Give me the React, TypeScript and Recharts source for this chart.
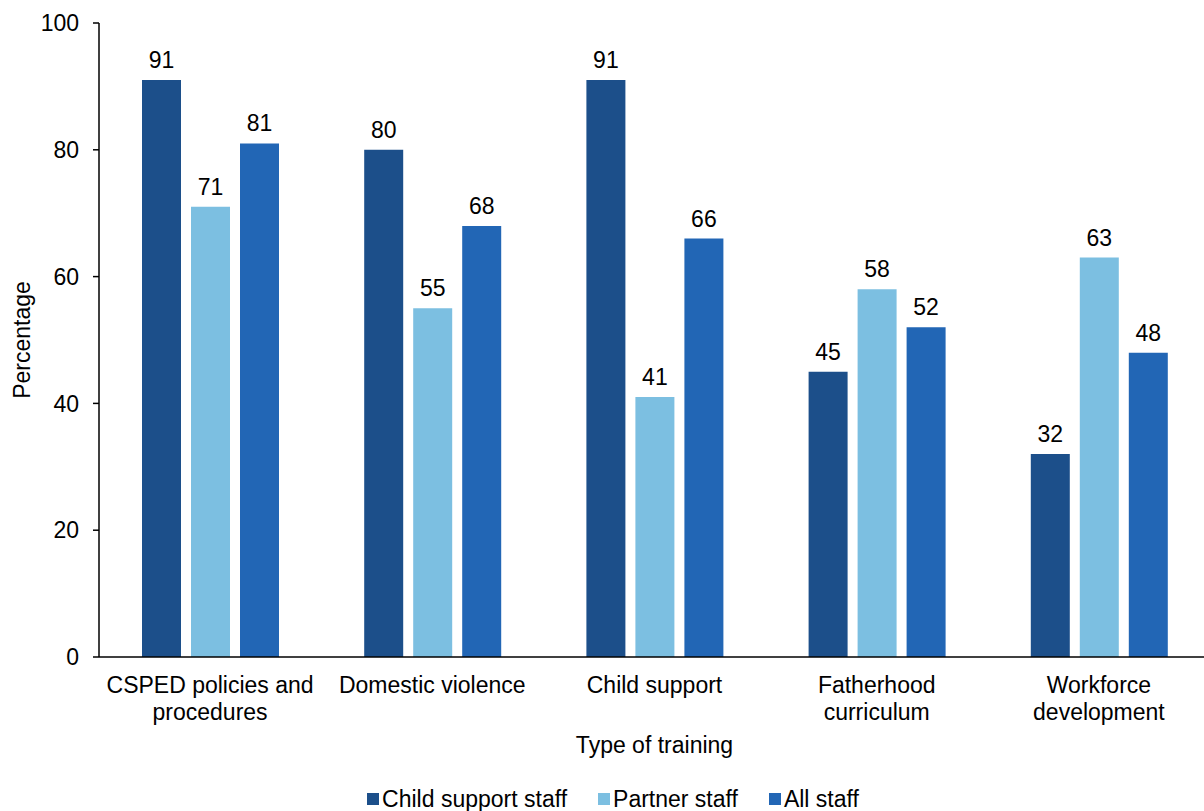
import React from 'react'
import { BarChart, Bar, XAxis, YAxis, Legend, LabelList } from 'recharts'

const categories = [
  'CSPED policies and\nprocedures',
  'Domestic violence',
  'Child support',
  'Fatherhood\ncurriculum',
  'Workforce\ndevelopment'
]
const childSupportStaff = [91, 80, 91, 45, 32]
const partnerStaff = [71, 55, 41, 58, 63]
const allStaff = [81, 68, 66, 52, 48]
const yTicks = [0, 20, 40, 60, 80, 100]

const series = [
  { key: 'Child support staff', color: '#1c4f8a', values: childSupportStaff },
  { key: 'Partner staff', color: '#7cbfe1', values: partnerStaff },
  { key: 'All staff', color: '#2266b5', values: allStaff }
]

const data = categories.map((name, i) => {
  const row: any = { name }
  series.forEach(s => { row[s.key] = s.values[i] })
  return row
})

const FONT = '"Liberation Sans", Arial, sans-serif'
const FS = 23

function CategoryTick({ x, y, payload }: any) {
  const lines = String(payload.value).split('\n')
  return (
    <text x={x} y={y} textAnchor="middle" fontSize={FS} fill="#000" fontFamily={FONT}>
      {lines.map((l, i) => (
        <tspan key={i} x={x} dy={i === 0 ? 36 : 27}>{l}</tspan>
      ))}
    </text>
  )
}

function LegendContent() {
  return (
    <div style={{ display: 'flex', justifyContent: 'center', paddingLeft: 16, fontFamily: FONT, fontSize: FS, color: '#000', lineHeight: '24px' }}>
      {series.map((s, i) => (
        <div key={s.key} style={{ display: 'flex', alignItems: 'center', marginLeft: i === 0 ? 0 : 31 }}>
          <span style={{ display: 'inline-block', width: 12, height: 12, background: s.color, marginRight: 3 }} />
          <span>{s.key}</span>
        </div>
      ))}
    </div>
  )
}

export default function App() {
  return (
    <div style={{ position: 'absolute', top: 0, left: 0, width: 1204, height: 811, background: '#fff', fontFamily: FONT, overflow: 'hidden' }}>
      <BarChart width={1204} height={811} data={data} margin={{ top: 23, right: -6, left: 0, bottom: 0 }} barSize={39} barGap={10}>
        <XAxis
          dataKey="name"
          height={130}
          tickLine={false}
          tickSize={0}
          tickMargin={0}
          tick={<CategoryTick />}
          interval={0}
          axisLine={{ stroke: '#000', strokeWidth: 1.5 }}
          label={{ value: 'Type of training', position: 'insideBottom', offset: 34, fontSize: FS, fill: '#000', fontFamily: FONT }}
        />
        <YAxis
          width={99}
          domain={[0, 100]}
          ticks={yTicks}
          tickSize={6}
          tickMargin={14}
          tick={{ fontSize: FS, fill: '#000', fontFamily: FONT }}
          axisLine={{ stroke: '#000', strokeWidth: 1.5 }}
          tickLine={{ stroke: '#000', strokeWidth: 1.5 }}
          label={{ value: 'Percentage', angle: -90, position: 'insideLeft', offset: 22, style: { textAnchor: 'middle' }, fontSize: FS, fill: '#000', fontFamily: FONT }}
        />
        <Legend verticalAlign="bottom" height={24} content={<LegendContent />} />
        {series.map(s => (
          <Bar key={s.key} dataKey={s.key} fill={s.color} isAnimationActive={false}>
            <LabelList dataKey={s.key} position="top" offset={12} fontSize={FS} fill="#000" fontFamily={FONT} />
          </Bar>
        ))}
      </BarChart>
    </div>
  )
}
